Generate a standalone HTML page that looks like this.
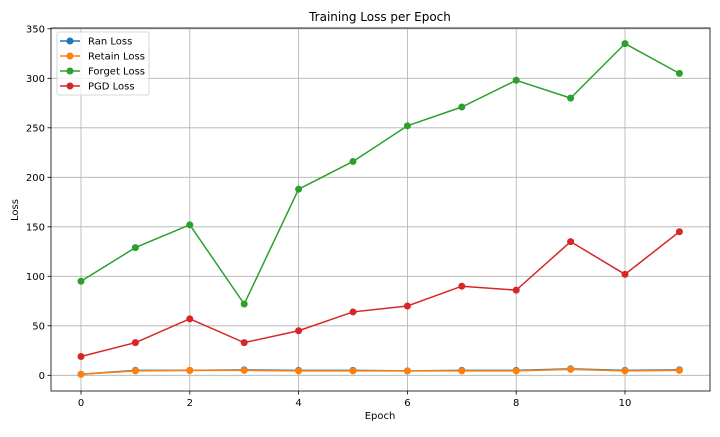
<!DOCTYPE html>
<html><head><meta charset="utf-8"><style>
body{margin:0;background:#fff;font-family:"Liberation Sans","DejaVu Sans",sans-serif}
svg text{font-family:"DejaVu Sans","Liberation Sans",sans-serif}
</style></head><body>
<svg id="c" width="720" height="432"></svg>
<script>
const epochs=[0,1,2,3,4,5,6,7,8,9,10,11];
const ranLoss=[1,5,5,5.5,5,5,4.5,5,5,6.5,5,5.5];
const retainLoss=[1,4.5,5,5,4.5,4.5,4.5,4.5,4.5,6,4.5,5];
const forgetLoss=[95,129,152,72,188,216,252,271,298,280,335,305];
const pgdLoss=[19,33,57,33,45,64,70,90,86,135,102,145];
const xTicks=[0,2,4,6,8,10];
const yTicks=[0,50,100,150,200,250,300,350];
const L=51,R=710,T=28,B=391;
const sx=v=>81+v*54.4;
const sy=v=>375.3-v*0.99;
const svg=document.getElementById('c');
const NS='http://www.w3.org/2000/svg';
function mk(t,a,p){const e=document.createElementNS(NS,t);for(const k in a)e.setAttribute(k,a[k]);(p||svg).appendChild(e);return e;}
let e;
e=mk('text',{x:380,y:21,'text-anchor':'middle','font-size':12,fill:'#000'});e.textContent='Training Loss per Epoch';


xTicks.forEach(v=>{
 e=mk('line',{x1:sx(v),x2:sx(v),y1:T,y2:B,stroke:'#b0b0b0','stroke-width':0.8});
 
 
 mk('line',{x1:sx(v),x2:sx(v),y1:B,y2:B+3.5,stroke:'#000','stroke-width':0.8});
 e=mk('text',{x:sx(v),y:B+15,'text-anchor':'middle','font-size':10,fill:'#000'});e.textContent=v;
 
 
});
yTicks.forEach(v=>{
 e=mk('line',{x1:L,x2:R,y1:sy(v),y2:sy(v),stroke:'#b0b0b0','stroke-width':0.8});
 
 
 mk('line',{x1:L-3.5,x2:L,y1:sy(v),y2:sy(v),stroke:'#000','stroke-width':0.8});
 e=mk('text',{x:L-6,y:sy(v)+3.5,'text-anchor':'end','font-size':10,fill:'#000'});e.textContent=v;
 
 
});
e=mk('rect',{x:L,y:T,width:R-L,height:B-T,fill:'none',stroke:'#000','stroke-width':0.8});


e=mk('text',{x:380,y:419,'text-anchor':'middle','font-size':10,fill:'#000'});e.textContent='Epoch';


e=mk('text',{x:18,y:210,'text-anchor':'middle','font-size':10,fill:'#000',transform:'rotate(-90 18 210)'});e.textContent='Loss';


const series=[['ran-loss',ranLoss,'#1f77b4','Ran Loss'],['retain-loss',retainLoss,'#ff7f0e','Retain Loss'],['forget-loss',forgetLoss,'#2ca02c','Forget Loss'],['pgd-loss',pgdLoss,'#d62728','PGD Loss']];
series.forEach(([n,d,c])=>{
 const g=mk('g',{});
 
 
 e=mk('polyline',{points:d.map((v,i)=>sx(epochs[i])+','+sy(v)).join(' '),fill:'none',stroke:c,'stroke-width':1.5},g);
 
 
 d.forEach((v,i)=>{
  e=mk('circle',{cx:sx(epochs[i]),cy:sy(v),r:3.5,fill:c},g);
  
  
 });
});
const lg=mk('g',{});


mk('rect',{x:57,y:32,width:92,height:63,rx:2,fill:'#fff','fill-opacity':0.8,stroke:'#ccc','stroke-width':0.8},lg);
series.forEach(([n,d,c,lab],i)=>{
 const y=41+i*15;
 const eg=mk('g',{},lg);
 
 
 mk('line',{x1:60,x2:80,y1:y,y2:y,stroke:c,'stroke-width':1.5},eg);
 mk('circle',{cx:70,cy:y,r:3.5,fill:c},eg);
 const t=mk('text',{x:88,y:y+3.5,'font-size':10,fill:'#000'},eg);t.textContent=lab;
});
</script>
</body></html>
